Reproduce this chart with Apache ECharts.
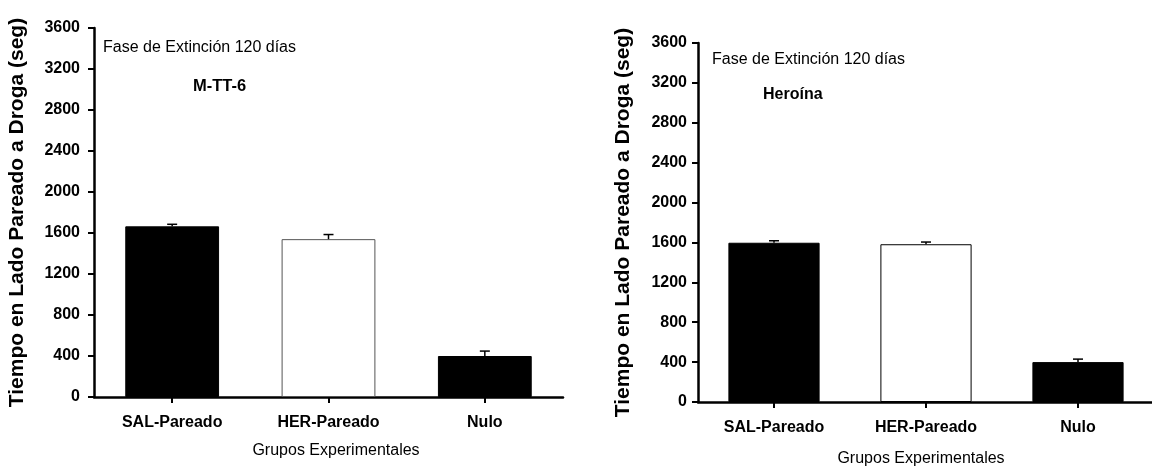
<!DOCTYPE html>
<html>
<head>
<meta charset="utf-8">
<script src="https://cdn.jsdelivr.net/npm/echarts@6/dist/echarts.min.js"></script>
<style>html,body{margin:0;padding:0;background:#fff}#c{width:1152px;height:470px}</style>
</head>
<body>
<div id="c"></div>
<script>
const categories = ['SAL-Pareado', 'HER-Pareado', 'Nulo'];
const barColors = ['#000000', '#ffffff', '#000000'];
const mttValues = [1665, 1540, 400];
const mttErrors = [20, 45, 48];
const herValues = [1597, 1582, 400];
const herErrors = [20, 22, 30];
const yMin = 0, yMax = 3600, yInterval = 400;
const yTitle = 'Tiempo en Lado Pareado a Droga (seg)';
const xTitle = 'Grupos Experimentales';
const phaseText = 'Fase de Extinción 120 días';
const leftLabel = 'M-TT-6';
const rightLabel = 'Heroína';

const FONT = '"Liberation Sans", Arial, sans-serif';

function xAxisCfg(gi) {
  return {
    type: 'category', gridIndex: gi, data: categories,
    axisLine: { show: true, lineStyle: { color: '#000', width: 2.5 } },
    axisTick: { show: true, alignWithLabel: true, length: 6, lineStyle: { color: '#000', width: 2 } },
    axisLabel: { color: '#000', fontWeight: 'bold', fontSize: 16, fontFamily: FONT, margin: 18 }
  };
}
function yAxisCfg(gi) {
  return {
    type: 'value', gridIndex: gi, min: yMin, max: yMax, interval: yInterval,
    axisLine: { show: true, lineStyle: { color: '#000', width: 2.5 } },
    axisTick: { show: true, length: 6, lineStyle: { color: '#000', width: 2 } },
    splitLine: { show: false },
    axisLabel: { color: '#000', fontWeight: 'bold', fontSize: 16, fontFamily: FONT, margin: gi === 0 ? 14 : 11, formatter: v => String(v) },
    name: yTitle, nameLocation: 'middle', nameRotate: 90, nameGap: gi === 0 ? 66 : 64,
    nameTextStyle: { color: '#000', fontWeight: 'bold', fontSize: 21, fontFamily: FONT }
  };
}
function barSeries(gi, vals, borderColor) {
  return {
    type: 'bar', xAxisIndex: gi, yAxisIndex: gi, barWidth: '60%',
    data: vals.map((v, i) => ({ value: v, itemStyle: { color: barColors[i], borderColor: i === 1 ? borderColor : '#000', borderWidth: 1 } })),
    z: 2
  };
}
function errSeries(gi, vals, errs) {
  return {
    type: 'custom', xAxisIndex: gi, yAxisIndex: gi, z: 3,
    encode: { x: 0, y: 1 },
    data: vals.map((v, i) => [i, v, errs[i]]),
    renderItem: function (params, api) {
      const i = api.value(0), v = api.value(1), e = api.value(2);
      const base = api.coord([i, v]);
      const top = api.coord([i, v + e]);
      const hw = 5;
      return {
        type: 'group',
        children: [
          { type: 'line', shape: { x1: top[0], y1: base[1], x2: top[0], y2: top[1] }, style: { stroke: '#000', lineWidth: 1.5 } },
          { type: 'line', shape: { x1: top[0] - hw, y1: top[1], x2: top[0] + hw, y2: top[1] }, style: { stroke: '#000', lineWidth: 1.5 } }
        ]
      };
    }
  };
}

const chart = echarts.init(document.getElementById('c'), null, { renderer: 'canvas' });
chart.setOption({
  backgroundColor: '#fff',
  animation: false,
  grid: [
    { left: 94, top: 28, width: 469, height: 369, outerBoundsMode: 'none', containLabel: false },
    { left: 698, top: 43, width: 456, height: 359, outerBoundsMode: 'none', containLabel: false }
  ],
  xAxis: [xAxisCfg(0), xAxisCfg(1)],
  yAxis: [yAxisCfg(0), yAxisCfg(1)],
  series: [
    barSeries(0, mttValues, '#555'),
    errSeries(0, mttValues, mttErrors),
    barSeries(1, herValues, '#000'),
    errSeries(1, herValues, herErrors)
  ],
  graphic: [
    { type: 'text', left: 103, top: 40, style: { text: phaseText, fill: '#000', fontSize: 16, fontFamily: FONT } },
    { type: 'text', left: 193, top: 78, style: { text: leftLabel, fill: '#000', fontSize: 16.5, fontWeight: 'bold', fontFamily: FONT } },
    { type: 'text', left: 712, top: 52, style: { text: phaseText, fill: '#000', fontSize: 16, fontFamily: FONT } },
    { type: 'text', left: 763, top: 87, style: { text: rightLabel, fill: '#000', fontSize: 16, fontWeight: 'bold', fontFamily: FONT } },
    { type: 'text', x: 336, y: 451, style: { text: xTitle, fill: '#000', fontSize: 16, fontFamily: FONT, align: 'center', verticalAlign: 'middle' } },
    { type: 'text', x: 921, y: 459, style: { text: xTitle, fill: '#000', fontSize: 16, fontFamily: FONT, align: 'center', verticalAlign: 'middle' } }
  ]
});
</script>
</body>
</html>
